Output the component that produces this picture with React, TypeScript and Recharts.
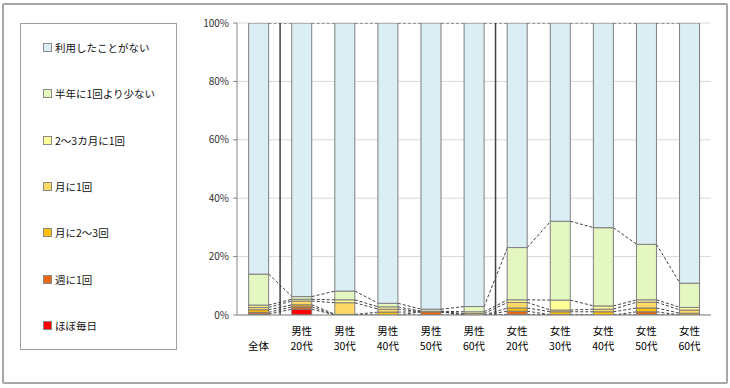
import React from 'react';
import { BarChart, Bar, XAxis, YAxis, CartesianGrid, ReferenceLine, Legend } from 'recharts';

const categories = ['全体', '男性20代', '男性30代', '男性40代', '男性50代', '男性60代', '女性20代', '女性30代', '女性40代', '女性50代', '女性60代'];
const tickLine1 = ['', '男性', '男性', '男性', '男性', '男性', '女性', '女性', '女性', '女性', '女性'];
const tickLine2 = ['全体', '20代', '30代', '40代', '50代', '60代', '20代', '30代', '40代', '50代', '60代'];

// stacking order: bottom first
const daily = [0.3, 2.0, 0, 0, 0, 0, 0.2, 0.1, 0, 0.1, 0];
const weekly = [0.6, 0.8, 0, 0, 1.1, 0, 1.1, 0, 0, 1.0, 0];
const twoThreeMonth = [0.9, 0.7, 0.2, 1.0, 0, 0, 1.1, 1.0, 1.1, 1.3, 0.6];
const oncePerMonth = [0.8, 1.3, 4.0, 1.0, 0, 0.5, 1.9, 0.6, 0.9, 2.0, 1.1];
const bimonthly = [0.8, 0.6, 1.0, 0.8, 0.2, 0.6, 0.9, 3.4, 1.1, 0.8, 0.9];
const lessThanHalfYear = [10.6, 0.9, 3.0, 1.2, 0.7, 1.8, 17.9, 27.0, 26.8, 19.0, 8.3];
const never = [86.0, 93.7, 91.8, 96.0, 98.0, 97.1, 76.9, 67.9, 70.1, 75.8, 89.1];

const seriesNames = ['ほぼ毎日', '週に1回', '月に2～3回', '月に1回', '2～3カ月に1回', '半年に1回より少ない', '利用したことがない'];
const seriesColors = ['#FF0000', '#E8670F', '#FFC000', '#FFD966', '#FFFF99', '#E5F7C1', '#DAEEF3'];
const seriesValues = [daily, weekly, twoThreeMonth, oncePerMonth, bimonthly, lessThanHalfYear, never];
const yTicks = [0, 20, 40, 60, 80, 100];
const groupStarts = ['男性20代', '女性20代'];

const keys = seriesNames.map((_, k) => 's' + k);
const data = categories.map((c, i) => {
  const row: any = { name: c };
  seriesValues.forEach((vals, k) => { row[keys[k]] = vals[i]; });
  return row;
});

const GAP = 0.27;
const FONT = '"Noto Sans CJK JP", "Noto Sans", sans-serif';

const cumulative = (k: number, i: number) => {
  let s = 0;
  for (let j = 0; j <= k; j++) s += seriesValues[j][i];
  return s;
};

const makeShape = (k: number) => (props: any) => {
  const { x, y, width, height, index, background } = props;
  const els: any[] = [];
  const band = width / (1 - 2 * GAP);
  const half = (band - width) / 2;
  if (height > 0.01) {
    els.push(<rect key="r" x={x} y={y} width={width} height={height} fill={seriesColors[k]} stroke="#7f7f7f" strokeWidth={1} />);
  }
  if (background) {
    if (index < categories.length - 1) {
      const nextTop = cumulative(k, index + 1);
      const y2 = background.y + background.height * (1 - nextTop / 100);
      els.push(<line key="l" x1={x + width} y1={y} x2={x + band} y2={y2} stroke="#404040" strokeWidth={1} strokeDasharray="3 2" />);
    }
    if (k === 0) {
      const base = background.y + background.height;
      els.push(<line key="t1" x1={x - half} y1={base} x2={x - half} y2={base + 4} stroke="#868686" strokeWidth={1} />);
      if (index === categories.length - 1) {
        els.push(<line key="t2" x1={x + width + half} y1={base} x2={x + width + half} y2={base + 4} stroke="#868686" strokeWidth={1} />);
      }
    }
  }
  return <g>{els}</g>;
};

const CatTick = (props: any) => {
  const { x, y, payload } = props;
  const i = payload.index;
  return (
    <text x={x} y={y + 17.5} textAnchor="middle" fontSize={10.5} fill="#000" fontFamily={FONT}>
      <tspan x={x} dy={0}>{tickLine1[i] || '\u00a0'}</tspan>
      <tspan x={x} dy={15.5}>{tickLine2[i]}</tspan>
    </text>
  );
};

const LegendContent = () => {
  const order = seriesNames.map((_, k) => seriesNames.length - 1 - k);
  return (
    <div style={{ width: '100%', height: '100%', boxSizing: 'border-box', border: '1.5px solid #a0a0a0', display: 'flex', flexDirection: 'column' }}>
      {order.map((k) => (
        <div key={k} style={{ flex: 1, display: 'flex', alignItems: 'center', paddingLeft: 22 }}>
          <span style={{ display: 'inline-block', width: 7, height: 7, background: seriesColors[k], border: '1px solid #8a8a8a', marginRight: 3 }} />
          <span style={{ fontSize: 10.5, fontFamily: FONT, color: '#111' }}>{seriesNames[k]}</span>
        </div>
      ))}
    </div>
  );
};

export default function App() {
  return (
    <div style={{ position: 'absolute', left: 0, top: 0, width: 730, height: 388, background: '#fff' }}>
      <div style={{ position: 'absolute', left: 2, top: 3, width: 722, height: 377, border: '2px solid #a6a6a6', borderRadius: 2 }} />
      <div style={{ position: 'absolute', left: 0, top: 0 }}>
        <BarChart width={730} height={388} data={data} margin={{ top: 23, right: 19, bottom: 43, left: 197 }} barCategoryGap={`${GAP * 100}%`} style={{ fontFamily: FONT }}>
          <CartesianGrid horizontal={true} vertical={false} stroke="#d9d9d9" />
          <XAxis dataKey="name" interval={0} tickLine={false} tickSize={0} axisLine={{ stroke: '#868686' }} tick={<CatTick />} height={30} />
          <YAxis domain={[0, 100]} ticks={yTicks} tickFormatter={(v: number) => `${v}%`} width={40} tickSize={4} tickMargin={4} axisLine={{ stroke: '#868686' }} tickLine={{ stroke: '#868686' }} tick={{ fontSize: 10, fill: '#333', fontFamily: FONT }} allowDataOverflow />
          <Legend layout="vertical" align="center" verticalAlign="middle" content={<LegendContent />} wrapperStyle={{ left: 20, top: 23, width: 157, height: 327 }} />
          {keys.map((key, k) => (
            <Bar key={key} dataKey={key} name={seriesNames[k]} stackId="a" fill={seriesColors[k]} isAnimationActive={false} shape={makeShape(k)} />
          ))}
          {groupStarts.map((g) => (
            <ReferenceLine key={g} x={g} position="start" stroke="#404040" strokeWidth={1.5} />
          ))}
          <ReferenceLine x={categories[categories.length - 1]} position="end" stroke="#a6a6a6" strokeWidth={1} />
        </BarChart>
      </div>
    </div>
  );
}
